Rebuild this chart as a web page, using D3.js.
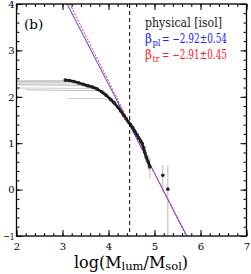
<!DOCTYPE html>
<html>
<head>
<meta charset="utf-8">
<script src="https://cdn.jsdelivr.net/npm/d3@7"></script>
<style>
  body { margin: 0; background: #fff; }
  svg text { font-family: "DejaVu Serif", serif; }
</style>
</head>
<body>
<div id="chart"></div>
<script>
// cumulative mass function, black points [logM, logN]
var points = [
  [3.06, 2.36], [3.15, 2.35], [3.25, 2.33], [3.35, 2.30], [3.45, 2.27],
  [3.55, 2.24], [3.65, 2.21], [3.75, 2.17], [3.85, 2.11], [3.95, 2.03],
  [4.05, 1.94], [4.12, 1.87], [4.20, 1.78], [4.27, 1.69], [4.33, 1.60],
  [4.38, 1.53], [4.43, 1.46], [4.48, 1.40], [4.53, 1.33], [4.57, 1.26],
  [4.62, 1.18], [4.66, 1.11], [4.70, 1.05], [4.73, 1.00], [4.76, 0.90],
  [4.79, 0.80], [4.82, 0.70], [4.86, 0.60], [4.90, 0.49], [5.18, 0.31],
  [5.29, 0.01]
];
// error bars [logM, low, high]
var errBars = [
  [4.80, 0.62, 0.95], [4.86, 0.42, 0.75], [4.90, 0.25, 0.70],
  [5.18, -0.05, 0.53], [5.29, -1.2, 0.53]
];
// gray resampled curves
var grayCurves = [
  [[2, 2.34], [3.1, 2.34], [3.5, 2.27], [3.9, 2.08], [4.2, 1.78]],
  [[2, 2.30], [3.3, 2.30], [3.7, 2.22], [4.0, 2.02], [4.3, 1.68]],
  [[2, 2.26], [3.4, 2.25], [3.8, 2.13], [4.1, 1.93]],
  [[2, 2.19], [3.6, 2.18], [3.9, 2.10], [4.2, 1.85]],
  [[2.2, 2.15], [3.9, 2.13], [4.25, 1.80]],
  [[3.1, 1.96], [3.9, 1.96], [4.1, 1.90]]
];
var grayShades = ["#999", "#bbb", "#aaa", "#ccc", "#bbb", "#ccc"];
// power-law fits: logM where logN = 4, and slope
var fitPl = { x0: 3.10, slope: -1.92 };
var fitTr = { x0: 3.16, slope: -1.98 };
var cutoff = 4.46;
var xTicks = [2, 3, 4, 5, 6, 7];
var yTicks = [-1, 0, 1, 2, 3, 4];

var W = 251, H = 274;
var m = { left: 16.5, right: 4.5, top: 4, bottom: 38 };

var svg = d3.select("#chart").append("svg")
  .attr("width", W).attr("height", H);

var x = d3.scaleLinear().domain([2, 7]).range([m.left, W - m.right]);
var y = d3.scaleLinear().domain([-1, 4]).range([H - m.bottom, m.top]);

svg.append("clipPath").attr("id", "clip")
  .append("rect")
  .attr("x", x(2)).attr("y", y(4))
  .attr("width", x(7) - x(2)).attr("height", y(-1) - y(4));

var plot = svg.append("g").attr("clip-path", "url(#clip)");
var line = d3.line().x(function(d) { return x(d[0]); }).y(function(d) { return y(d[1]); });

grayCurves.forEach(function(c, i) {
  plot.append("path").attr("d", line(c)).attr("fill", "none")
    .attr("stroke", grayShades[i]).attr("stroke-width", 1);
});

plot.selectAll(".err").data(errBars).enter().append("line")
  .attr("x1", function(d) { return x(d[0]); })
  .attr("x2", function(d) { return x(d[0]); })
  .attr("y1", function(d) { return y(d[1]); })
  .attr("y2", function(d) { return y(d[2]); })
  .attr("stroke", "#bbb").attr("stroke-width", 1);

function fitLine(f) { return [[f.x0, 4], [f.x0 + (-5) / f.slope, -1]]; }
plot.append("path").attr("d", line(fitLine(fitPl)))
  .attr("stroke", "#4040ff").attr("stroke-width", 1).attr("fill", "none");
plot.append("path").attr("d", line(fitLine(fitTr)))
  .attr("stroke", "#ff3030").attr("stroke-width", 1)
  .attr("stroke-dasharray", "2,1.5").attr("fill", "none");

plot.append("path").attr("d", line(points.slice(0, 29)))
  .attr("fill", "none").attr("stroke", "#111").attr("stroke-width", 2.6)
  .attr("stroke-linecap", "round");
plot.selectAll(".pt").data(points).enter().append("circle")
  .attr("cx", function(d) { return x(d[0]); })
  .attr("cy", function(d) { return y(d[1]); })
  .attr("r", 1.8).attr("fill", "#222");

// mass cut
svg.append("line")
  .attr("x1", x(cutoff)).attr("x2", x(cutoff))
  .attr("y1", y(4)).attr("y2", y(-1))
  .attr("stroke", "#000").attr("stroke-width", 1)
  .attr("stroke-dasharray", "4,3");

// inward ticks on all four sides
var minorX = d3.range(2, 7.001, 0.2);
var minorY = d3.range(-1, 4.001, 0.2);
function addAxis(axis, transform) {
  var g = svg.append("g").attr("transform", transform).call(axis);
  g.select(".domain").remove();
  g.selectAll("line").attr("stroke", "#000");
  g.attr("font-family", null);
  return g;
}
addAxis(d3.axisBottom(x).tickValues(minorX).tickSize(-3).tickFormat(""), "translate(0," + y(-1) + ")");
addAxis(d3.axisTop(x).tickValues(minorX).tickSize(-3).tickFormat(""), "translate(0," + y(4) + ")");
addAxis(d3.axisLeft(y).tickValues(minorY).tickSize(-3).tickFormat(""), "translate(" + x(2) + ",0)");
addAxis(d3.axisRight(y).tickValues(minorY).tickSize(-3).tickFormat(""), "translate(" + x(7) + ",0)");

var xb = addAxis(d3.axisBottom(x).tickValues(xTicks).tickSize(-6).tickPadding(7).tickFormat(d3.format("d")),
  "translate(0," + y(-1) + ")");
xb.attr("font-size", 10);
xb.selectAll("text").attr("fill", "#000");
addAxis(d3.axisTop(x).tickValues(xTicks).tickSize(-6).tickFormat(""), "translate(0," + y(4) + ")");
var yl = addAxis(d3.axisLeft(y).tickValues(yTicks).tickSize(-6).tickPadding(2)
  .tickFormat(function(d) { return d < 0 ? "\u2212" + (-d) : d; }), "translate(" + x(2) + ",0)");
yl.attr("font-size", 10);
yl.selectAll("text").attr("fill", "#000");
yl.selectAll("text").filter(function(d) { return d === -1; }).attr("textLength", 11).attr("lengthAdjust", "spacingAndGlyphs");
addAxis(d3.axisRight(y).tickValues(yTicks).tickSize(-6).tickFormat(""), "translate(" + x(7) + ",0)");

svg.append("rect")
  .attr("x", x(2)).attr("y", y(4))
  .attr("width", x(7) - x(2)).attr("height", y(-1) - y(4))
  .attr("fill", "none").attr("stroke", "#000").attr("stroke-width", 1.3);

// annotations
svg.append("text").attr("x", 24).attr("y", 29).attr("font-size", 13.5).text("(b)");
svg.append("text").attr("x", 145).attr("y", 27).attr("font-size", 12).attr("fill", "#222")
  .attr("textLength", 77).attr("lengthAdjust", "spacingAndGlyphs")
  .text("physical [isol]");

// beta labels as separate pieces so the subscript sits in its own box
function betaLabel(yPos, sub, val, color) {
  var g = svg.append("g").attr("fill", color);
  g.append("text").attr("x", 145).attr("y", yPos).attr("font-size", 12).text("\u03b2");
  g.append("text").attr("x", 152.5).attr("y", yPos + 3).attr("font-size", 8.5)
    .attr("textLength", sub === "pl" ? 8 : 7).attr("lengthAdjust", "spacingAndGlyphs").text(sub);
  g.append("text").attr("x", 162).attr("y", yPos).attr("font-size", 12)
    .attr("textLength", 65).attr("lengthAdjust", "spacingAndGlyphs")
    .text("= " + val);
}
betaLabel(43, "pl", "\u22122.92\u00b10.54", "#2020ff");
betaLabel(59, "tr", "\u22122.91\u00b10.45", "#ff2020");

var xt = svg.append("text").attr("x", 131).attr("y", 268).attr("font-size", 16)
  .attr("text-anchor", "middle");
xt.append("tspan").text("log(M");
xt.append("tspan").attr("dy", 2).attr("font-size", 11.5).text("lum");
xt.append("tspan").attr("dy", -2).text("/M");
xt.append("tspan").attr("dy", 2).attr("font-size", 11.5).text("sol");
xt.append("tspan").attr("dy", -2).text(")");
</script>
</body>
</html>
